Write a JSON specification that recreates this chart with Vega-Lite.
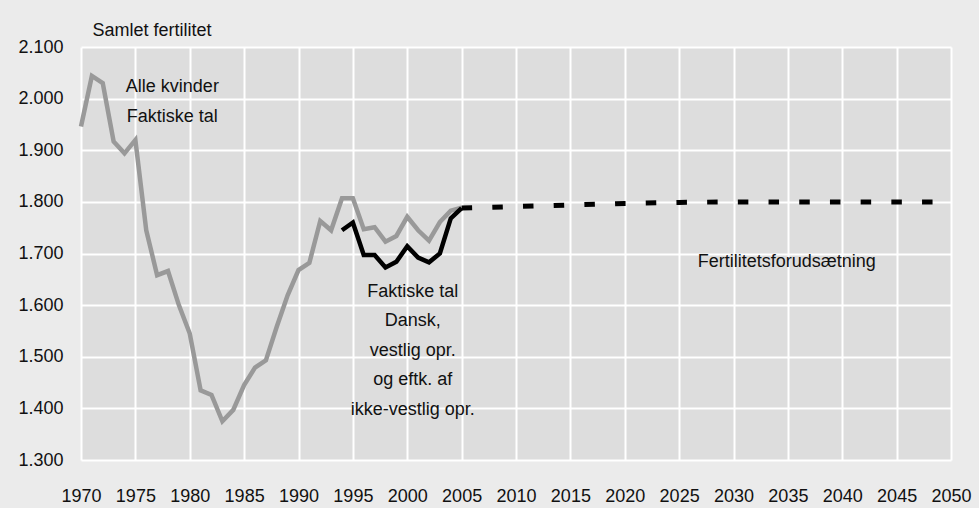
{
  "$schema": "https://vega.github.io/schema/vega-lite/v6.json",
  "width": 870,
  "height": 413,
  "autosize": {"type": "none"},
  "padding": {"left": 81, "top": 47, "right": 28, "bottom": 48},
  "background": "#ebebeb",
  "config": {
    "font": "Liberation Sans",
    "view": {"fill": "#dddddd", "stroke": null},
    "axis": {"labelFont": "Liberation Sans", "labelFontSize": 18, "labelColor": "#111111", "domain": false, "ticks": false, "gridColor": "#ffffff", "gridWidth": 2, "gridOpacity": 1}
  },
  "datasets": {
    "lines": [
      {"year": 1970, "value": 1946, "series": "alle"},
      {"year": 1971, "value": 2044, "series": "alle"},
      {"year": 1972, "value": 2030, "series": "alle"},
      {"year": 1973, "value": 1917, "series": "alle"},
      {"year": 1974, "value": 1894, "series": "alle"},
      {"year": 1975, "value": 1920, "series": "alle"},
      {"year": 1976, "value": 1745, "series": "alle"},
      {"year": 1977, "value": 1658, "series": "alle"},
      {"year": 1978, "value": 1666, "series": "alle"},
      {"year": 1979, "value": 1600, "series": "alle"},
      {"year": 1980, "value": 1545, "series": "alle"},
      {"year": 1981, "value": 1435, "series": "alle"},
      {"year": 1982, "value": 1426, "series": "alle"},
      {"year": 1983, "value": 1375, "series": "alle"},
      {"year": 1984, "value": 1397, "series": "alle"},
      {"year": 1985, "value": 1445, "series": "alle"},
      {"year": 1986, "value": 1479, "series": "alle"},
      {"year": 1987, "value": 1493, "series": "alle"},
      {"year": 1988, "value": 1558, "series": "alle"},
      {"year": 1989, "value": 1619, "series": "alle"},
      {"year": 1990, "value": 1668, "series": "alle"},
      {"year": 1991, "value": 1682, "series": "alle"},
      {"year": 1992, "value": 1763, "series": "alle"},
      {"year": 1993, "value": 1745, "series": "alle"},
      {"year": 1994, "value": 1807, "series": "alle"},
      {"year": 1995, "value": 1807, "series": "alle"},
      {"year": 1996, "value": 1747, "series": "alle"},
      {"year": 1997, "value": 1751, "series": "alle"},
      {"year": 1998, "value": 1723, "series": "alle"},
      {"year": 1999, "value": 1734, "series": "alle"},
      {"year": 2000, "value": 1771, "series": "alle"},
      {"year": 2001, "value": 1745, "series": "alle"},
      {"year": 2002, "value": 1725, "series": "alle"},
      {"year": 2003, "value": 1761, "series": "alle"},
      {"year": 2004, "value": 1783, "series": "alle"},
      {"year": 2005, "value": 1789, "series": "alle"},
      {"year": 1994, "value": 1745, "series": "dansk"},
      {"year": 1995, "value": 1760, "series": "dansk"},
      {"year": 1996, "value": 1697, "series": "dansk"},
      {"year": 1997, "value": 1697, "series": "dansk"},
      {"year": 1998, "value": 1673, "series": "dansk"},
      {"year": 1999, "value": 1684, "series": "dansk"},
      {"year": 2000, "value": 1714, "series": "dansk"},
      {"year": 2001, "value": 1692, "series": "dansk"},
      {"year": 2002, "value": 1683, "series": "dansk"},
      {"year": 2003, "value": 1700, "series": "dansk"},
      {"year": 2004, "value": 1768, "series": "dansk"},
      {"year": 2005, "value": 1788, "series": "dansk"},
      {"year": 2005, "value": 1788, "series": "prognose"},
      {"year": 2010, "value": 1791, "series": "prognose"},
      {"year": 2015, "value": 1794, "series": "prognose"},
      {"year": 2020, "value": 1797, "series": "prognose"},
      {"year": 2025, "value": 1799, "series": "prognose"},
      {"year": 2030, "value": 1800, "series": "prognose"},
      {"year": 2040, "value": 1800, "series": "prognose"},
      {"year": 2049, "value": 1800, "series": "prognose"}
    ],
    "labels": [
      {"year": 1978.4, "value": 2022, "text": "Alle kvinder\nFaktiske tal"},
      {"year": 2000.5, "value": 1626, "text": "Faktiske tal\nDansk,\nvestlig opr.\nog eftk. af\nikke-vestlig opr."},
      {"year": 2034.9, "value": 1684, "text": "Fertilitetsforudsætning"}
    ]
  },
  "encoding": {
    "x": {"field": "year", "type": "quantitative", "scale": {"domain": [1970, 2050], "nice": false, "zero": false},
      "axis": {"title": null, "values": [1970, 1975, 1980, 1985, 1990, 1995, 2000, 2005, 2010, 2015, 2020, 2025, 2030, 2035, 2040, 2045, 2050], "format": "d", "labelPadding": 27, "labelFlush": false, "labelOverlap": false}},
    "y": {"field": "value", "type": "quantitative", "scale": {"domain": [1300, 2100], "nice": false, "zero": false},
      "axis": {"title": "Samlet fertilitet", "titleAngle": 0, "titleX": 11, "titleY": -12, "titleAlign": "left", "titleBaseline": "alphabetic", "titleFont": "Liberation Sans", "titleFontSize": 18, "titleFontWeight": "normal", "titleColor": "#111111",
        "values": [1300, 1400, 1500, 1600, 1700, 1800, 1900, 2000, 2100], "labelExpr": "replace(format(datum.value, ','), ',', '.')", "labelPadding": 18, "labelFlush": false, "labelOverlap": false}}
  },
  "layer": [
    {"data": {"name": "lines"}, "transform": [{"filter": "datum.series == 'alle'"}], "mark": {"type": "line", "color": "#999999", "strokeWidth": 4.5, "strokeJoin": "miter"}},
    {"data": {"name": "lines"}, "transform": [{"filter": "datum.series == 'dansk'"}], "mark": {"type": "line", "color": "#000000", "strokeWidth": 4.5, "strokeJoin": "miter"}},
    {"data": {"name": "lines"}, "transform": [{"filter": "datum.series == 'prognose'"}], "mark": {"type": "line", "color": "#000000", "strokeWidth": 5, "strokeDash": [10.5, 20.2]}},
    {"data": {"name": "labels"}, "mark": {"type": "text", "align": "center", "baseline": "middle", "lineBreak": "\n", "lineHeight": 29.5, "fontSize": 18, "font": "Liberation Sans", "color": "#111111"}, "encoding": {"text": {"field": "text"}}}
  ]
}
